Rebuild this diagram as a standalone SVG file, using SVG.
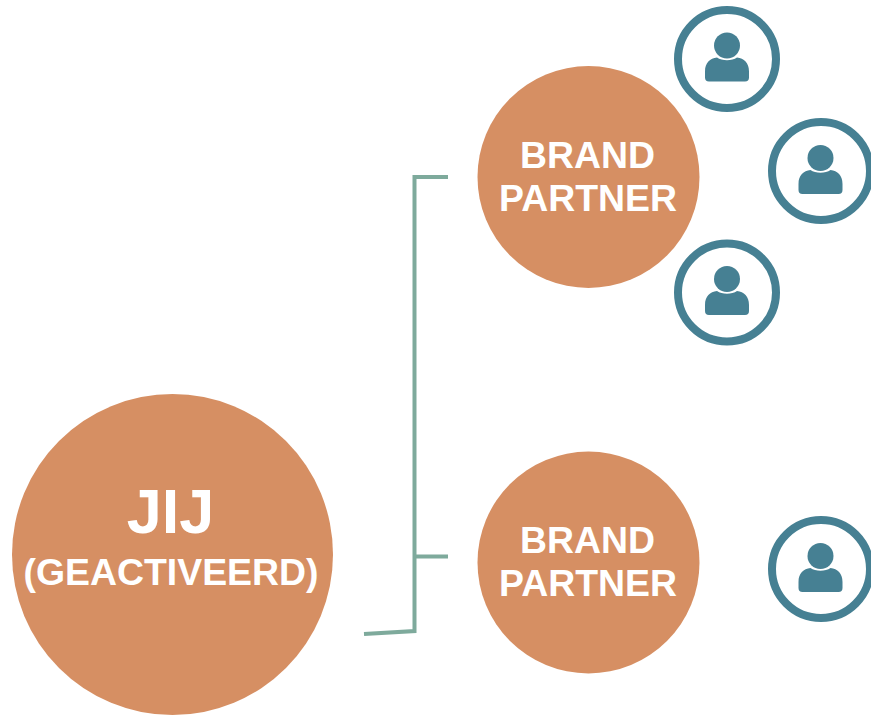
<svg xmlns="http://www.w3.org/2000/svg" width="871" height="716" viewBox="0 0 871 716">
<style>
.node{fill:#d68f63}
.t{font-family:"Liberation Sans",Arial,sans-serif;font-weight:700;fill:#fff;text-anchor:middle}
.bp{font-size:37.400px}
.ring{fill:#fff;stroke:#468093;stroke-width:8}
.p{fill:#468093}
.c{fill:none;stroke:#7eaa9c;stroke-width:4}
</style>
<defs>
<circle id="ring" class="ring" cx="0" cy="0" r="49"/>
<g id="person">
<circle class="p" cx="0" cy="-14" r="13"/>
<path class="p" d="M-22 18V12C-22 3-17-1-10-2C-5 1.500 5 1.500 10-2C17-1 22 3 22 12V18Q22 22 18 22H-18Q-22 22-22 18Z"/>
</g>
</defs>
<rect width="871" height="716" fill="#fff"/>
<g id="connectors">
<path class="c" d="M364 634L414.500 631V177H448"/>
<path class="c" d="M414.500 556.500H448"/>
</g>
<g id="jij">
<circle class="node" cx="172.500" cy="554.500" r="160.500"/>
<text class="t" x="170.500" y="533" font-size="63">JIJ</text>
<text class="t" x="171" y="585" font-size="37.400">(GEACTIVEERD)</text>
</g>
<g id="partner1">
<circle class="node" cx="588.500" cy="177" r="111"/>
<text class="t bp" x="587.500" y="168">BRAND</text>
<text class="t bp" x="588" y="211">PARTNER</text>
</g>
<g id="partner2">
<circle class="node" cx="588.500" cy="562.500" r="111"/>
<text class="t bp" x="587.500" y="553">BRAND</text>
<text class="t bp" x="588" y="596">PARTNER</text>
</g>
<g id="user1"><use href="#ring" x="727" y="59"/><use href="#person" x="727" y="59.500"/></g>
<g id="user2"><use href="#ring" x="821" y="171"/><use href="#person" x="820.500" y="172"/></g>
<g id="user3"><use href="#ring" x="727" y="292.500"/><use href="#person" x="727" y="293"/></g>
<g id="user4"><use href="#ring" x="821" y="569"/><use href="#person" x="820.500" y="570"/></g>
</svg>
